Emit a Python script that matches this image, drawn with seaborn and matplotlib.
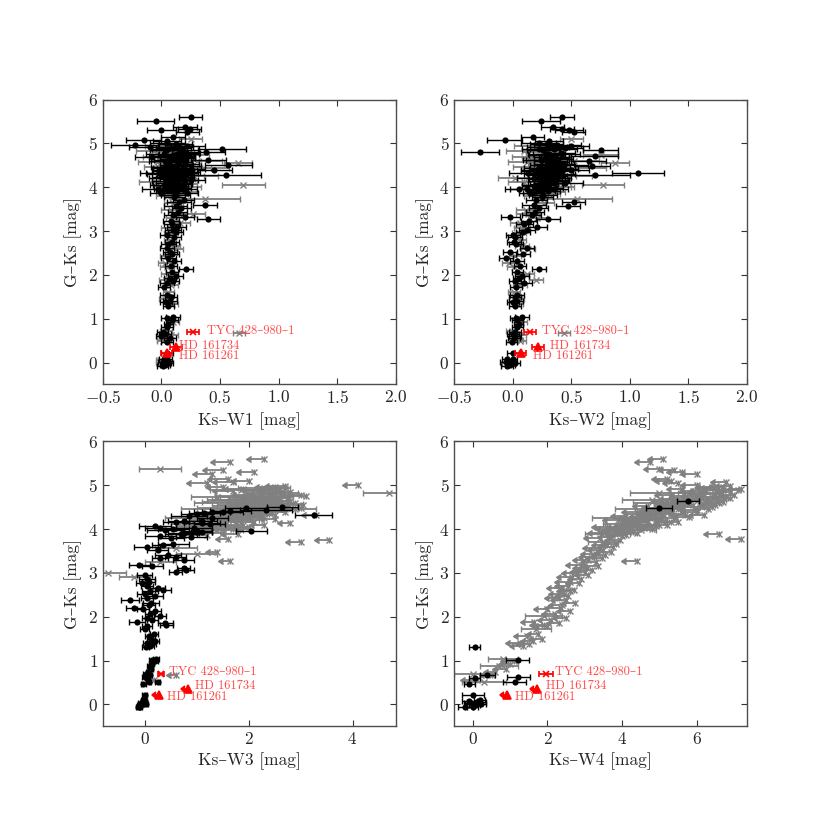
import numpy as np
import pandas as pd
import matplotlib
matplotlib.use("Agg")
import matplotlib.pyplot as plt
import seaborn as sns

# Cores G-Ks (eixo y, comum aos quatro painéis)
GK = [-0.07, -0.05, -0.02, 0.00, 0.02, 0.05, 0.07, 0.09, 0.00, 0.22,
      0.47, 0.52, 0.56, 0.60, 0.63, 0.66, 0.68, 0.70, 0.73, 0.80, 0.87, 0.92, 0.98, 1.02, 1.04, 0.50,
      1.30, 1.33, 1.37, 1.41, 1.45, 1.50, 1.55, 1.60, 1.72, 1.78, 1.82, 1.86, 1.89, 1.93, 1.97, 2.02, 2.07, 2.13,
      2.17, 2.20, 2.26, 2.32, 2.38, 2.42, 2.47, 2.52, 2.58, 2.62, 2.66, 2.70, 2.76, 2.80, 2.86, 2.90, 2.95, 2.99,
      3.02, 3.06, 3.10, 3.15, 3.18, 3.24, 3.27, 3.30, 3.33, 3.37, 3.40, 3.44, 3.48, 3.52, 3.57, 3.60, 3.63, 3.66,
      3.70, 3.74, 3.77, 3.85, 3.88,
      3.92, 3.94, 3.95, 3.97, 3.99, 4.01, 4.03, 4.05, 4.06, 4.08, 4.10, 4.12, 4.14, 4.16, 4.18,
      4.20, 4.22, 4.24, 4.26, 4.28, 4.30, 4.31, 4.33, 4.35, 4.36, 4.38, 4.40, 4.41, 4.43, 4.45,
      4.47, 4.49, 4.51, 4.53, 4.55, 4.57, 4.59, 4.61, 4.63, 4.65, 4.67, 4.69, 4.71, 4.73, 4.75,
      4.77, 4.80, 4.82, 4.85, 4.87, 4.90, 4.92, 4.95, 4.97, 5.00,
      3.93, 3.98, 4.02, 4.07, 4.11, 4.15, 4.19, 4.23, 4.27, 4.32, 4.34, 4.37, 4.42, 4.44, 4.48,
      4.52, 4.56, 4.60, 4.64, 4.68, 4.72, 4.76, 4.81, 4.86, 4.93,
      3.80, 3.83, 3.86, 3.89, 3.91, 3.96, 4.00, 4.04, 4.09, 4.13, 4.17, 4.21, 4.25, 4.29, 4.32,
      4.35, 4.39, 4.42, 4.46, 4.50, 4.54, 4.58, 4.62, 4.66, 4.70, 4.74, 4.78, 4.83, 4.88, 4.91,
      4.94, 4.98, 4.25, 4.45, 4.60,
      5.05, 5.07, 5.10, 5.15, 5.25, 5.30, 5.34, 5.38, 5.52, 5.60]

# Ks-W1
KW1 = [0.01, 0.03, 0.00, 0.04, 0.02, -0.01, 0.05, 0.02, 0.06, 0.05,
       0.05, 0.02, 0.07, 0.00, 0.08, 0.03, 0.66, 0.01, 0.04, 0.05, 0.06, 0.10, 0.09, 0.05, 0.10, 0.01,
       0.06, 0.09, 0.04, 0.07, 0.03, 0.08, 0.05, 0.06, 0.02, 0.08, 0.05, 0.10, 0.04, 0.07, 0.12, 0.06, 0.09, 0.21,
       0.05, 0.08, 0.03, 0.11, 0.06, 0.04, 0.09, 0.07, 0.12, 0.05, 0.10, 0.06, 0.09, 0.07, 0.11, 0.05, 0.08, 0.12,
       0.10, 0.07, 0.13, 0.09, 0.16, 0.08, 0.40, 0.12, 0.20, 0.10, 0.27, 0.14, 0.08, 0.17, 0.12, 0.37, 0.10, 0.15,
       0.19, 0.37, 0.11, 0.14, 0.22,
       0.12, 0.05, 0.18, 0.06, 0.15, 0.08, 0.13, 0.70, 0.02, 0.20, 0.10, 0.16, 0.04, 0.25, 0.09,
       0.13, 0.07, 0.18, 0.11, 0.55, 0.00, 0.14, 0.09, 0.21, 0.05, 0.16, 0.45, 0.08, 0.12, 0.30,
       0.03, 0.19, 0.57, 0.10, 0.65, 0.14, 0.06, 0.22, 0.40, 0.11, 0.17, -0.08, 0.09, 0.26, 0.13,
       0.02, 0.38, 0.07, 0.16, 0.52, 0.10, -0.10, 0.22, -0.23, 0.05,
       0.08, 0.11, 0.03, 0.14, 0.06, 0.12, 0.17, 0.04, 0.10, 0.15, 0.07, 0.12, 0.19, 0.05, 0.09,
       0.14, 0.11, 0.03, 0.08, 0.13, 0.06, 0.18, 0.10, 0.04, 0.12,
       0.05, 0.12, 0.00, 0.18, 0.09, -0.03, 0.22, 0.07, 0.14, -0.05, 0.19, 0.03, 0.24, 0.10, -0.02,
       0.16, 0.06, 0.25, 0.01, 0.13, 0.20, -0.04, 0.08, 0.17, 0.00, 0.11, 0.21, -0.06, 0.06, 0.15,
       0.02, 0.12, 0.28, 0.33, 0.30,
       0.05, -0.15, 0.25, 0.10, 0.22, 0.00, 0.24, 0.20, -0.05, 0.25]

# Ks-W2
KW2 = [-0.05, -0.02, -0.04, -0.01, -0.06, -0.03, 0.00, -0.05, 0.02, 0.00,
       -0.01, 0.03, 0.01, 0.02, 0.05, 0.00, 0.44, 0.02, -0.01, 0.04, 0.05, 0.07, 0.04, 0.03, 0.08, 0.06,
       0.02, 0.04, 0.00, 0.03, 0.05, 0.02, 0.04, 0.01, 0.03, 0.06, 0.10, 0.02, 0.20, 0.05, 0.08, 0.12, 0.04, 0.22,
       0.01, 0.06, -0.03, 0.04, -0.06, 0.02, 0.09, -0.02, 0.13, 0.12, 0.08, 0.03, 0.01, 0.06, 0.02, 0.00, 0.05, 0.09,
       0.12, 0.08, 0.21, 0.10, 0.06, 0.14, 0.30, 0.21, -0.02, 0.16, 0.13, 0.19, 0.11, 0.22, 0.47, 0.18, 0.27, 0.52,
       0.20, 0.55, 0.25, 0.31, 0.18,
       0.30, 0.22, 0.35, 0.05, 0.28, 0.40, 0.18, 0.77, 0.25, 0.33, 0.45, 0.20, 0.30, 0.36, 0.24,
       0.02, 0.38, 0.28, 0.34, 0.70, 0.22, 0.41, 1.07, 0.29, 0.19, 0.32, 0.50, 0.26, 0.37, 0.21,
       0.33, 0.68, 0.44, 0.27, 0.87, 0.36, 0.65, 0.30, 0.24, 0.39, 0.20, 0.33, 0.70, 0.75, 0.28,
       0.42, -0.28, 0.26, 0.75, 0.35, 0.45, 0.30, 0.50, 0.38, 0.22,
       0.25, 0.31, 0.20, 0.27, 0.35, 0.23, 0.29, 0.33, 0.26, 0.31, 0.24, 0.37, 0.28, 0.22, 0.34,
       0.30, 0.25, 0.32, 0.27, 0.36, 0.23, 0.31, 0.29, 0.26, 0.33,
       0.20, 0.26, 0.15, 0.33, 0.24, 0.12, 0.38, 0.22, 0.30, 0.10, 0.35, 0.18, 0.42, 0.27, 0.13,
       0.32, 0.21, 0.44, 0.16, 0.29, 0.40, 0.12, 0.25, 0.36, 0.15, 0.28, 0.41, 0.10, 0.22, 0.34,
       0.17, 0.29, 0.48, 0.55, 0.52,
       0.31, -0.07, 0.50, 0.17, 0.52, 0.48, 0.42, 0.34, 0.24, 0.42]

# erro em Ks-W1 e Ks-W2
ERR12 = [0.05, 0.04, 0.05, 0.04, 0.05, 0.04, 0.04, 0.04, 0.04, 0.05,
         0.05, 0.06, 0.05, 0.05, 0.06, 0.05, 0.05, 0.05, 0.05, 0.05, 0.04, 0.05, 0.05, 0.05, 0.06, 0.05,
         0.05, 0.05, 0.05, 0.06, 0.05, 0.05, 0.06, 0.05, 0.05, 0.06, 0.06, 0.05, 0.06, 0.05, 0.06, 0.06, 0.05, 0.06,
         0.06, 0.05, 0.06, 0.06, 0.06, 0.05, 0.06, 0.06, 0.06, 0.06, 0.06, 0.06, 0.06, 0.05, 0.06, 0.06, 0.06, 0.06,
         0.07, 0.07, 0.08, 0.07, 0.08, 0.07, 0.10, 0.08, 0.08, 0.08, 0.10, 0.08, 0.08, 0.08, 0.10, 0.10, 0.08, 0.10,
         0.09, 0.30, 0.09, 0.09, 0.09,
         0.10, 0.10, 0.12, 0.12, 0.10, 0.12, 0.10, 0.18, 0.12, 0.10, 0.15, 0.10, 0.12, 0.12, 0.10,
         0.15, 0.12, 0.10, 0.12, 0.30, 0.12, 0.12, 0.22, 0.12, 0.12, 0.12, 0.15, 0.12, 0.12, 0.12,
         0.12, 0.15, 0.20, 0.12, 0.12, 0.12, 0.15, 0.12, 0.15, 0.12, 0.12, 0.15, 0.20, 0.15, 0.15,
         0.15, 0.16, 0.15, 0.15, 0.20, 0.15, 0.18, 0.15, 0.20, 0.15,
         0.12, 0.12, 0.10, 0.12, 0.14, 0.10, 0.12, 0.12, 0.14, 0.12, 0.10, 0.14, 0.12, 0.12, 0.14,
         0.12, 0.12, 0.14, 0.12, 0.14, 0.12, 0.14, 0.15, 0.14, 0.15,
         0.10, 0.12, 0.10, 0.12, 0.12, 0.14, 0.12, 0.14, 0.12, 0.14, 0.12, 0.14, 0.12, 0.14, 0.16,
         0.12, 0.14, 0.12, 0.16, 0.14, 0.12, 0.16, 0.14, 0.12, 0.16, 0.14, 0.12, 0.16, 0.14, 0.12,
         0.16, 0.14, 0.20, 0.25, 0.22,
         0.12, 0.15, 0.10, 0.10, 0.10, 0.12, 0.10, 0.10, 0.16, 0.10]

# Ks-W3, erro e tipo (0 detecção, 1 detecção fraca, 2 limite superior)
KW3 = [-0.12, -0.08, -0.10, -0.05, -0.07, -0.03, 0.00, -0.02, 0.03, 0.00,
       -0.02, 0.08, 0.18, 0.05, 0.00, 0.10, 0.60, 0.03, 0.07, 0.12, 0.10, 0.14, 0.20, 0.15, 0.22, 0.25,
       0.02, 0.10, 0.15, 0.05, 0.20, 0.12, 0.08, 0.18, 0.00, 0.05, 0.42, 0.40, -0.15, 0.15, 0.05, 0.30, 0.10, 0.20,
       -0.03, -0.20, 0.08, 0.12, -0.28, 0.05, 0.20, 0.00, 0.10, 0.35, 0.25, 0.05, -0.05, 0.08, 0.05, -0.20, 0.00, -0.70,
       0.60, 0.80, 0.75, 0.15, -0.10, 0.30, 1.65, 0.75, 0.30, 0.60, 0.45, 1.00, 1.40, 0.25, 0.60, 0.05, 0.35, 0.55,
       3.00, 3.55, 1.60, 0.30, 1.80,
       0.75, 1.10, 2.05, 0.40, 0.55, 1.50, 0.30, 2.00, 0.20, 1.20, 2.30, 0.90, 2.80, 0.60, 0.75,
       1.70, 2.50, 1.40, 1.30, 2.20, 0.85, 3.30, 3.25, 1.00, 1.15, 1.30, 1.50, 1.65, 2.33, 2.70,
       1.95, 3.00, 2.65, 1.90, 2.50, 2.10, 2.90, 1.60, 2.40, 2.80, 1.80, 2.20, 2.60, 1.40, 3.10,
       2.00, 2.40, 4.70, 2.80, 1.70, 2.20, 1.90, 2.50, 1.50, 4.10,
       1.00, 1.40, 0.95, 1.60, 1.25, 1.85, 1.10, 2.00, 1.55, 2.10, 1.75, 2.40, 1.95, 2.20, 1.70,
       2.55, 2.00, 2.35, 2.75, 2.10, 2.45, 1.95, 2.60, 2.30, 2.70,
       0.50, 0.90, 1.20, 0.70, 1.50, 1.00, 1.70, 1.30, 1.90, 1.10, 2.10, 1.45, 2.30, 1.60, 2.50,
       1.80, 2.70, 2.00, 2.90, 2.20, 3.05, 2.35, 2.60, 1.90, 2.75, 2.15, 3.00, 2.45, 1.85, 2.60,
       2.30, 2.70, 1.20, 1.60, 1.75,
       1.20, 1.70, 2.00, 1.60, 1.30, 2.10, 1.50, 0.30, 1.65, 2.30]

ERR3 = [0.04, 0.03, 0.04, 0.04, 0.05, 0.04, 0.04, 0.05, 0.04, 0.05,
        0.04, 0.05, 0.06, 0.05, 0.05, 0.05, 0.10, 0.05, 0.04, 0.05, 0.05, 0.05, 0.05, 0.06, 0.05, 0.05,
        0.06, 0.08, 0.08, 0.07, 0.08, 0.08, 0.07, 0.08, 0.08, 0.10, 0.12, 0.14, 0.15, 0.10, 0.10, 0.12, 0.10, 0.12,
        0.12, 0.15, 0.12, 0.15, 0.18, 0.12, 0.15, 0.15, 0.15, 0.15, 0.15, 0.12, 0.12, 0.12, 0.15, 0.30, 0.15, 0.35,
        0.12, 0.15, 0.12, 0.20, 0.20, 0.30, 0.15, 0.20, 0.15, 0.20, 0.25, 0.40, 0.15, 0.20, 0.40, 0.25, 0.20, 0.30,
        0.20, 0.20, 0.15, 0.30, 0.25,
        0.30, 0.20, 0.30, 0.35, 0.30, 0.50, 0.30, 0.20, 0.30, 0.60, 0.20, 0.40, 0.15, 0.25, 0.30,
        0.50, 0.20, 0.30, 0.30, 0.25, 0.35, 0.20, 0.35, 0.30, 0.30, 0.35, 0.40, 0.40, 0.50, 0.60,
        0.40, 0.20, 0.30, 0.60, 0.25, 0.30, 0.25, 0.50, 0.30, 0.30, 0.60, 0.25, 0.30, 0.50, 0.30,
        0.25, 0.30, 0.50, 0.25, 0.30, 0.25, 0.30, 0.30, 0.25, 0.20,
        0.30, 0.50, 0.35, 0.40, 0.30, 0.30, 0.30, 0.30, 0.50, 0.40, 0.60, 0.30, 0.50, 0.40, 0.70,
        0.30, 0.60, 0.40, 0.30, 0.50, 0.30, 0.60, 0.30, 0.40, 0.30,
        0.25, 0.30, 0.40, 0.30, 0.30, 0.30, 0.30, 0.70, 0.30, 0.35, 0.30, 0.60, 0.25, 0.70, 0.25,
        0.60, 0.25, 0.70, 0.25, 0.60, 0.30, 0.70, 0.30, 0.60, 0.30, 0.70, 0.30, 0.50, 0.60, 0.30,
        0.50, 0.30, 0.80, 0.90, 0.80,
        0.30, 0.30, 0.25, 0.30, 0.30, 0.25, 0.30, 0.40, 0.30, 0.25]

TIPO3 = [0, 0, 0, 0, 0, 0, 0, 0, 0, 0,
         0, 0, 2, 0, 0, 0, 2, 0, 0, 0, 0, 0, 0, 0, 0, 0,
         0, 0, 0, 0, 0, 0, 0, 0, 0, 0, 0, 0, 0, 0, 0, 0, 0, 0,
         0, 0, 0, 0, 0, 0, 0, 0, 0, 0, 0, 0, 0, 0, 0, 1, 0, 1,
         0, 0, 0, 0, 0, 1, 2, 0, 0, 0, 0, 1, 2, 0, 1, 0, 0, 0,
         2, 2, 2, 0, 2,
         0, 0, 0, 0, 0, 1, 0, 2, 0, 1, 2, 1, 2, 0, 0,
         1, 2, 2, 0, 2, 0, 2, 0, 0, 0, 0, 0, 0, 0, 1,
         0, 2, 0, 1, 2, 2, 2, 1, 2, 2, 1, 2, 2, 1, 2,
         2, 2, 1, 2, 2, 2, 2, 2, 2, 2,
         0, 1, 0, 2, 0, 2, 0, 2, 1, 2, 1, 2, 1, 2, 1,
         2, 1, 2, 2, 1, 2, 1, 2, 1, 2,
         0, 0, 2, 0, 2, 0, 2, 1, 2, 0, 2, 1, 2, 1, 2,
         1, 2, 1, 2, 1, 2, 1, 2, 1, 2, 1, 2, 1, 1, 2,
         1, 2, 1, 1, 1,
         2, 2, 2, 2, 2, 2, 2, 1, 2, 2]

# Ks-W4, erro e tipo
KW4 = [-0.20, 0.00, 0.05, 0.22, -0.05, 0.10, -0.10, 0.18, 0.00, 0.00,
       -0.10, 1.12, 0.10, 0.05, 1.22, 0.38, 0.50, 0.00, 0.60, 0.90, 0.70, 1.00, 1.10, 1.20, 0.80, 0.30,
       0.05, 1.35, 1.50, 1.25, 1.60, 1.85, 1.45, 1.75, 1.70, 2.00, 1.90, 2.30, 1.65, 2.10, 2.50, 1.90, 2.20, 2.60,
       2.00, 2.35, 2.40, 2.75, 2.50, 2.30, 2.55, 2.45, 2.60, 2.70, 2.40, 2.55, 2.85, 2.60, 2.90, 2.65, 3.10, 2.80,
       3.00, 3.20, 3.05, 3.35, 2.90, 3.30, 4.40, 3.10, 3.45, 3.25, 3.55, 3.30, 3.70, 3.50, 3.40, 3.75, 3.60, 3.85,
       3.50, 3.95, 7.20, 4.00, 6.60,
       3.50, 4.30, 3.90, 4.50, 3.70, 4.10, 4.60, 3.60, 4.90, 4.20, 5.20, 4.00, 4.40, 5.50, 4.70,
       3.90, 4.50, 5.00, 4.30, 5.80, 4.10, 6.20, 4.80, 4.60, 5.30, 4.40, 5.10, 4.90, 6.00, 5.50,
       5.00, 5.60, 6.40, 4.70, 5.90, 5.40, 6.60, 5.20, 5.77, 6.10, 4.80, 6.30, 5.70, 6.80, 6.00,
       5.30, 6.50, 5.00, 6.90, 6.20, 7.10, 5.60, 6.70, 6.40, 6.00,
       3.80, 4.20, 4.00, 4.50, 4.30, 4.70, 4.40, 4.90, 4.60, 5.10, 4.80, 5.30, 5.00, 5.20, 4.90,
       5.50, 5.30, 5.60, 5.80, 5.40, 6.00, 5.70, 6.20, 5.90, 6.40,
       3.40, 3.70, 4.10, 3.60, 4.40, 3.90, 4.80, 4.20, 5.00, 4.40, 5.30, 4.60, 5.40, 4.90, 5.70,
       5.10, 6.00, 5.30, 6.30, 5.60, 6.50, 5.80, 6.70, 6.20, 6.90, 6.40, 7.00, 6.10, 6.60, 7.20,
       6.50, 6.90, 4.00, 4.60, 5.00,
       5.50, 6.80, 5.30, 5.20, 6.00, 5.60, 5.40, 5.00, 4.75, 5.10]

ERR4 = [0.20, 0.15, 0.15, 0.12, 0.20, 0.25, 0.20, 0.15, 0.20, 0.30,
        0.15, 0.30, 0.30, 0.15, 0.30, 0.20, 0.20, 0.50, 0.20, 0.25, 0.50, 0.20, 0.25, 0.30, 0.40, 0.60,
        0.15, 0.25, 0.25, 0.25, 0.20, 0.25, 0.25, 0.20, 0.40, 0.25, 0.25, 0.20, 0.25, 0.25, 0.25, 0.50, 0.25, 0.25,
        0.25, 0.30, 0.25, 0.25, 0.30, 0.25, 0.25, 0.30, 0.25, 0.25, 0.30, 0.25, 0.25, 0.30, 0.25, 0.30, 0.25, 0.30,
        0.30, 0.30, 0.25, 0.30, 0.30, 0.30, 0.30, 0.30, 0.30, 0.30, 0.25, 0.30, 0.30, 0.30, 0.35, 0.30, 0.30, 0.30,
        0.40, 0.30, 0.30, 0.30, 0.30,
        0.30, 0.30, 0.30, 0.40, 0.30, 0.30, 0.30, 0.30, 0.30, 0.30, 0.30, 0.50, 0.30, 0.30, 0.30,
        0.30, 0.30, 0.30, 0.30, 0.30, 0.30, 0.30, 0.30, 0.50, 0.30, 0.30, 0.30, 0.30, 0.30, 0.30,
        0.35, 0.30, 0.30, 0.30, 0.30, 0.30, 0.30, 0.30, 0.30, 0.30, 0.80, 0.30, 0.30, 0.30, 0.30,
        0.30, 0.30, 0.80, 0.30, 0.30, 0.30, 0.30, 0.30, 0.30, 0.30,
        0.30, 0.25, 0.30, 0.30, 0.25, 0.30, 0.30, 0.25, 0.30, 0.30, 0.30, 0.25, 0.30, 0.30, 0.25,
        0.30, 0.30, 0.25, 0.30, 0.30, 0.25, 0.30, 0.30, 0.25, 0.30,
        0.30, 0.25, 0.30, 0.60, 0.30, 0.25, 0.30, 0.60, 0.30, 0.25, 0.30, 0.60, 0.30, 0.25, 0.30,
        0.60, 0.30, 0.25, 0.30, 0.60, 0.30, 0.25, 0.30, 0.60, 0.30, 0.25, 0.30, 0.60, 0.30, 0.25,
        0.30, 0.30, 0.80, 0.80, 0.70,
        0.30, 0.30, 0.30, 0.30, 0.30, 0.30, 0.30, 0.30, 0.30, 0.30]

TIPO4 = [0, 0, 0, 0, 0, 0, 0, 0, 0, 0,
         0, 0, 2, 0, 0, 0, 2, 1, 2, 2, 1, 2, 2, 0, 1, 1,
         0, 2, 2, 2, 2, 2, 2, 2, 1, 2, 2, 2, 2, 2, 2, 1, 2, 2,
         2, 2, 2, 2, 2, 2, 2, 2, 2, 2, 2, 2, 2, 2, 2, 2, 2, 2,
         2, 2, 2, 2, 2, 2, 2, 2, 2, 2, 2, 2, 2, 2, 2, 2, 2, 2,
         1, 2, 2, 2, 2,
         2, 2, 2, 1, 2, 2, 2, 2, 2, 2, 2, 1, 2, 2, 2,
         2, 2, 2, 2, 2, 2, 2, 2, 1, 2, 2, 2, 2, 2, 2,
         0, 2, 2, 2, 2, 2, 2, 2, 0, 2, 1, 2, 2, 2, 2,
         2, 2, 1, 2, 2, 2, 2, 2, 2, 2,
         2, 2, 2, 2, 2, 2, 2, 2, 2, 2, 2, 2, 2, 2, 2,
         2, 2, 2, 2, 2, 2, 2, 2, 2, 2,
         2, 2, 2, 1, 2, 2, 2, 1, 2, 2, 2, 1, 2, 2, 2,
         1, 2, 2, 2, 1, 2, 2, 2, 1, 2, 2, 2, 1, 2, 2,
         2, 2, 1, 1, 1,
         2, 2, 2, 2, 2, 2, 2, 2, 2, 2]

# estrelas em cinza nos painéis W1/W2
CINZA12 = [0, 0, 1, 0, 0, 1, 0, 0, 0, 0,
           0, 1, 0, 0, 1, 0, 1, 0, 1, 0, 0, 1, 0, 0, 0, 1,
           0, 1, 0, 0, 1, 0, 0, 1, 0, 1, 0, 0, 1, 0, 0, 1, 0, 0,
           1, 0, 1, 0, 0, 1, 0, 0, 1, 0, 1, 0, 0, 1, 0, 0, 1, 0,
           0, 1, 0, 0, 1, 0, 0, 1, 0, 0, 1, 0, 1, 0, 0, 0, 1, 0,
           0, 1, 0, 1, 0,
           0, 0, 0, 0, 0, 1, 0, 1, 0, 1, 0, 1, 0, 0, 0,
           1, 0, 0, 0, 0, 0, 0, 0, 0, 0, 0, 0, 0, 0, 1,
           0, 0, 0, 1, 1, 0, 0, 1, 0, 0, 1, 0, 0, 1, 0,
           0, 0, 1, 0, 0, 0, 0, 0, 0, 0,
           1, 0, 1, 0, 1, 0, 1, 0, 1, 0, 1, 0, 1, 0, 1,
           0, 1, 0, 1, 0, 1, 0, 1, 0, 1,
           1, 0, 0, 1, 0, 0, 1, 0, 0, 1, 0, 0, 1, 0, 0,
           1, 0, 0, 1, 0, 0, 1, 0, 0, 1, 0, 0, 1, 0, 0,
           1, 0, 1, 1, 1,
           0, 0, 1, 0, 0, 0, 0, 0, 0, 0]

# estrelas destacadas (vermelho)
NOMES = ["TYC 428\u2013980\u20131", "HD 161734", "HD 161261"]
MARCAS = ["x", "^", "^"]
GK_ALVO = [0.69, 0.36, 0.21]
W1_ALVO = [0.27, 0.125, 0.043]
W2_ALVO = [0.15, 0.214, 0.066]
W3_ALVO = [0.31, 0.83, 0.28]
W4_ALVO = [1.96, 1.72, 0.91]
ERR_ALVO12 = [0.05, 0.05, 0.05]
ERR_ALVO3 = [0.06, 0.06, 0.06]
ERR_ALVO4 = [0.18, 0.08, 0.08]
# posição do início dos textos (x, y)
TXT_W1 = [(0.39, 0.71), (0.15, 0.39), (0.15, 0.14)]
TXT_W2 = [(0.25, 0.71), (0.32, 0.39), (0.17, 0.14)]
TXT_W3 = [(0.47, 0.73), (0.97, 0.41), (0.43, 0.17)]
TXT_W4 = [(2.19, 0.73), (1.95, 0.41), (1.14, 0.17)]

df = pd.DataFrame({"gk": GK, "w1": KW1, "w2": KW2, "e12": ERR12,
                   "w3": KW3, "e3": ERR3, "t3": TIPO3,
                   "w4": KW4, "e4": ERR4, "t4": TIPO4, "c12": CINZA12})
df["t12"] = df["c12"]

alvos = pd.DataFrame({"nome": NOMES, "marca": MARCAS, "gk": GK_ALVO,
                      "w1": W1_ALVO, "w2": W2_ALVO, "w3": W3_ALVO, "w4": W4_ALVO,
                      "e12": ERR_ALVO12, "e3": ERR_ALVO3, "e4": ERR_ALVO4})

########################
# Estilo
########################
sns.set_style("ticks")
plt.rcParams["font.family"] = ["cmr10", "DejaVu Serif"]
plt.rcParams["mathtext.fontset"] = "cm"
plt.rcParams["axes.formatter.use_mathtext"] = True
plt.rcParams["axes.unicode_minus"] = True

CINZA = "0.5"
VERMELHO = "red"


def painel(ax, xcol, ecol, tcol, ealvo, textos, rotulo, xlim, xticks, limite_alvo):
    y = df["gk"]
    x = df[xcol]
    e = df[ecol]
    t = df[tcol]

    fraco = t == 1
    ax.errorbar(x[fraco], y[fraco], xerr=e[fraco], fmt="x", color=CINZA,
                ms=4.5, mew=1, elinewidth=1.3, capsize=2, zorder=1)
    lim = t == 2
    if lim.any():
        ax.errorbar(x[lim], y[lim], xerr=e[lim], xuplims=True, fmt="x", color=CINZA,
                    ms=4.5, mew=1, elinewidth=1.3, capsize=2.5, zorder=1)
    det = t == 0
    ax.errorbar(x[det], y[det], xerr=e[det], fmt="none", ecolor="k",
                elinewidth=1, capsize=2, zorder=2)
    sns.scatterplot(x=x[det].to_numpy(), y=y[det].to_numpy(), ax=ax, color="k",
                    s=20, linewidth=0, zorder=3)

    for i, linha in alvos.iterrows():
        ax.errorbar(linha[xcol], linha["gk"], xerr=linha[ealvo], fmt=linha["marca"],
                    color=VERMELHO, ms=6 if linha["marca"] == "^" else 5, mew=1.2,
                    elinewidth=1.3, capsize=2, xuplims=limite_alvo and i > 0, zorder=4)
        tx, ty = textos[i]
        ax.text(tx, ty, linha["nome"], color="#ff4a4a", fontsize=9,
                va="center", ha="left", zorder=5)

    ax.set_xlim(*xlim)
    ax.set_ylim(-0.5, 6)
    ax.set_xticks(xticks)
    ax.set_yticks(range(0, 7))
    ax.set_xlabel(rotulo, fontsize=12.5)
    ax.set_ylabel("G\u2013Ks [mag]", fontsize=12.5)
    ax.tick_params(direction="in", top=True, right=True, length=4, width=0.8,
                   labelsize=12.5, color="0.2")
    for s in ax.spines.values():
        s.set_color("0.3")
        s.set_linewidth(1)


fig, axs = plt.subplots(2, 2, figsize=(8.3, 8.3), dpi=100)
fig.subplots_adjust(left=0.124, right=0.9, bottom=0.125, top=0.88, wspace=0.2, hspace=0.2)

painel(axs[0, 0], "w1", "e12", "t12", "e12", TXT_W1, "Ks\u2013W1 [mag]",
       (-0.5, 2.0), [-0.5, 0.0, 0.5, 1.0, 1.5, 2.0], False)
painel(axs[0, 1], "w2", "e12", "t12", "e12", TXT_W2, "Ks\u2013W2 [mag]",
       (-0.5, 2.0), [-0.5, 0.0, 0.5, 1.0, 1.5, 2.0], False)
painel(axs[1, 0], "w3", "e3", "t3", "e3", TXT_W3, "Ks\u2013W3 [mag]",
       (-0.8, 4.83), [0, 2, 4], True)
painel(axs[1, 1], "w4", "e4", "t4", "e4", TXT_W4, "Ks\u2013W4 [mag]",
       (-0.5, 7.35), [0, 2, 4, 6], True)

fig.savefig("out.png", dpi=100)
